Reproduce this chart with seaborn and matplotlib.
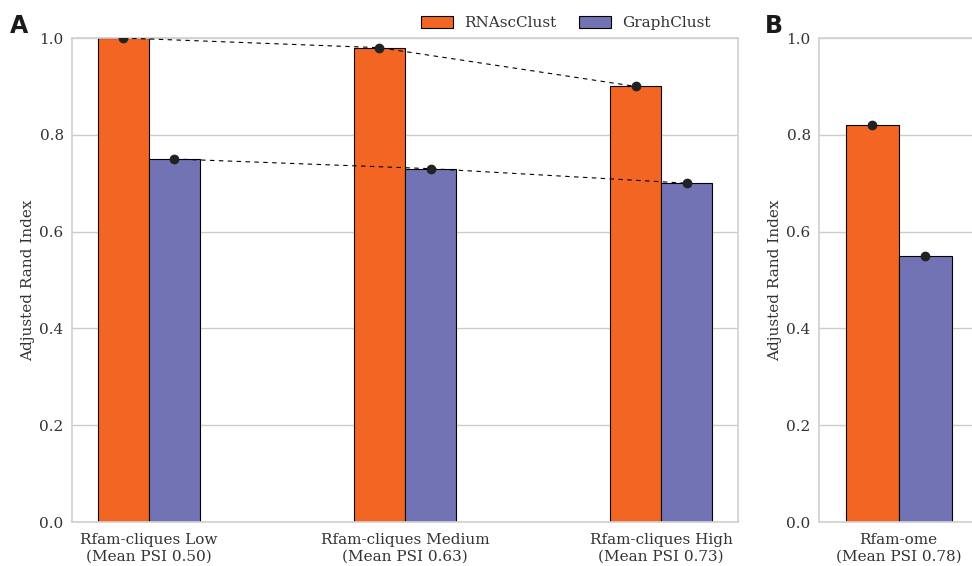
import numpy as np
import matplotlib
matplotlib.use("Agg")
import matplotlib.pyplot as plt
import pandas as pd
import seaborn as sns

# data
methods = ["RNAscClust", "GraphClust"]
colors = ["#F26522", "#7173B5"]

sets_a = ["Rfam-cliques Low\n(Mean PSI 0.50)",
          "Rfam-cliques Medium\n(Mean PSI 0.63)",
          "Rfam-cliques High\n(Mean PSI 0.73)"]
rnasc_a = [1.00, 0.98, 0.90]
graph_a = [0.75, 0.73, 0.70]

sets_b = ["Rfam-ome\n(Mean PSI 0.78)"]
rnasc_b = [0.82]
graph_b = [0.55]

yticks = [0.0, 0.2, 0.4, 0.6, 0.8, 1.0]

sns.set_theme(style="whitegrid")
plt.rcParams["font.family"] = ["DejaVu Serif"]
FS = 11


def make_df(sets, a, b):
    return pd.DataFrame({
        "set": sets * 2,
        "method": [methods[0]] * len(sets) + [methods[1]] * len(sets),
        "ari": list(a) + list(b),
    })


def draw_panel(ax, sets, a, b, lines):
    df = make_df(sets, a, b)
    sns.barplot(data=df, x="set", y="ari", hue="method", hue_order=methods,
                palette=colors, width=0.4, edgecolor="black", linewidth=0.8,
                saturation=1, ax=ax, legend=False)
    x = np.arange(len(sets))
    for off, vals in zip([-0.1, 0.1], [a, b]):
        ax.plot(x + off, vals, ls=(0, (4, 4)) if lines else "none",
                lw=0.8, color="black", marker="o", ms=6,
                markerfacecolor="#222222", markeredgecolor="#222222", zorder=5)
    ax.set_ylim(0, 1)
    ax.set_yticks(yticks)
    ax.set_yticklabels([f"{t:.1f}" for t in yticks], fontsize=FS, color=".2")
    ax.tick_params(axis="x", labelsize=FS, colors=".2", pad=2)
    ax.tick_params(axis="y", pad=0)
    ax.set_xlabel("")
    ax.set_ylabel("Adjusted Rand Index", fontsize=FS, color=".2", labelpad=3)
    ax.grid(axis="x", visible=False)
    ax.set_axisbelow(True)
    for s in ax.spines.values():
        s.set_color(".82")


fig = plt.figure(figsize=(9.72, 5.66), dpi=100)
W, H = 972, 566
ax_a = fig.add_axes([72 / W, 44 / H, 666 / W, 484 / H])
ax_b = fig.add_axes([819 / W, 44 / H, 159 / W, 484 / H])

draw_panel(ax_a, sets_a, rnasc_a, graph_a, True)
ax_a.set_xlim(-0.3, 2.3)
draw_panel(ax_b, sets_b, rnasc_b, graph_b, False)
ax_b.set_xlim(-0.3, 0.3)

for t in ax_a.get_xticklabels() + ax_b.get_xticklabels():
    t.set_linespacing(1.25)

handles = [plt.Rectangle((0, 0), 1, 1, facecolor=c, edgecolor="black", lw=0.8)
           for c in colors]
ax_a.legend(handles, methods, loc="lower right", bbox_to_anchor=(0.97, 1.0),
            ncol=2, frameon=False, fontsize=FS, handlelength=2.1,
            handleheight=0.75, handletextpad=0.7, columnspacing=1.5,
            borderaxespad=0.1, labelcolor=".2")

fig.text(10 / W, 1 - 33 / H, "A", fontsize=17, fontweight="bold",
         family="DejaVu Sans", color=".1")
fig.text(765 / W, 1 - 33 / H, "B", fontsize=17, fontweight="bold",
         family="DejaVu Sans", color=".1")

fig.savefig("out.png", dpi=100)
